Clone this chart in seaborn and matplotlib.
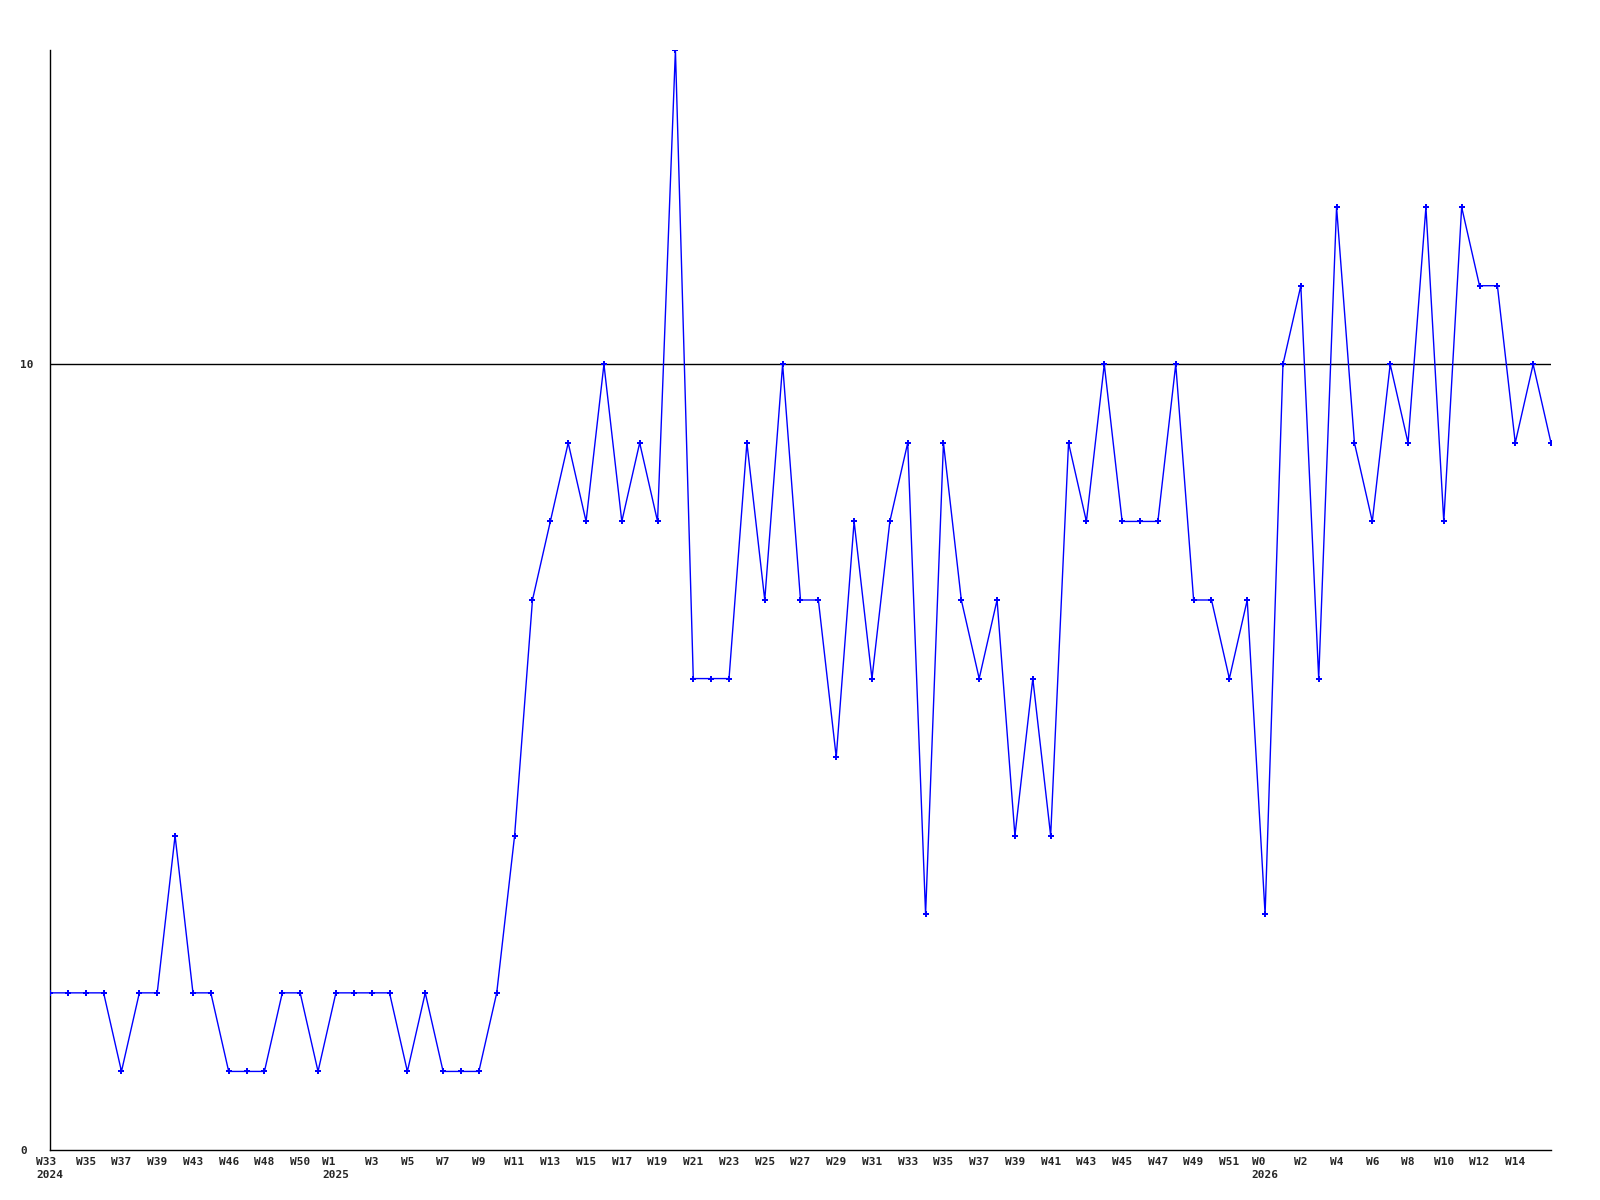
import matplotlib
matplotlib.use("Agg")
import matplotlib.pyplot as plt
import seaborn as sns
import pandas as pd

# weekly counts, one per point (Aug 2024 -> Apr 2026)
counts = [2, 2, 2, 2, 1, 2, 2, 4, 2, 2,
          1, 1, 1, 2, 2, 1, 2, 2, 2, 2,
          1, 2, 1, 1, 1, 2, 4, 7, 8, 9,
          8, 10, 8, 9, 8, 14, 6, 6, 6, 9,
          7, 10, 7, 7, 5, 8, 6, 8, 9, 3,
          9, 7, 6, 7, 4, 6, 4, 9, 8, 10,
          8, 8, 8, 10, 7, 7, 6, 7, 3, 10,
          11, 6, 12, 9, 8, 10, 9, 12, 8, 12,
          11, 11, 9, 10, 9]

# labels shown on every other point
week_labels = ["W33", "W35", "W37", "W39", "W43", "W46", "W48", "W50", "W1", "W3",
               "W5", "W7", "W9", "W11", "W13", "W15", "W17", "W19", "W21", "W23",
               "W25", "W27", "W29", "W31", "W33", "W35", "W37", "W39", "W41", "W43",
               "W45", "W47", "W49", "W51", "W0", "W2", "W4", "W6", "W8", "W10",
               "W12", "W14"]
year_marks = {"W33": "2024", "W1": "2025", "W0": "2026"}

y_ticks = [0, 10]

df = pd.DataFrame({"idx": range(len(counts)), "count": counts})

sns.set_style("white")
plt.rcParams["font.family"] = ["DejaVu Sans Mono"]

fig = plt.figure(figsize=(16, 12), dpi=100)
ax = fig.add_axes([50 / 1600, 50 / 1200, 1501 / 1600, 1100 / 1200])

sns.lineplot(data=df, x="idx", y="count", ax=ax, color="#0000ff", linewidth=1.0,
             marker="P", markersize=4.5, markeredgewidth=0, zorder=3)

ax.set_xlim(0, len(counts) - 1)
ax.set_ylim(0, 14)

# x tick labels, with the year under the first week of each year
tick_pos = list(range(0, len(counts), 2))[:len(week_labels)]
tick_txt = []
seen = set()
for w in week_labels:
    if w in year_marks and year_marks[w] not in seen:
        tick_txt.append(w + "\n" + year_marks[w])
        seen.add(year_marks[w])
    else:
        tick_txt.append(w)
ax.set_xticks(tick_pos)
ax.set_xticklabels(tick_txt, fontsize=8, fontweight="bold", linespacing=1.35,
                   va="top", ha="center", multialignment="left")

ax.set_yticks(y_ticks)
ax.set_yticklabels([str(v) for v in y_ticks], fontsize=8, fontweight="bold", ha="left")
ax.tick_params(axis="y", length=0, pad=21.6)
ax.tick_params(axis="x", length=0, pad=5)

# reference line at 10
ax.axhline(10, color="black", linewidth=1.0, zorder=1)

for side in ["top", "right"]:
    ax.spines[side].set_visible(False)
for side in ["left", "bottom"]:
    ax.spines[side].set_color("black")
    ax.spines[side].set_linewidth(1.0)

ax.set_xlabel("")
ax.set_ylabel("")

fig.savefig("out.png", dpi=100)
